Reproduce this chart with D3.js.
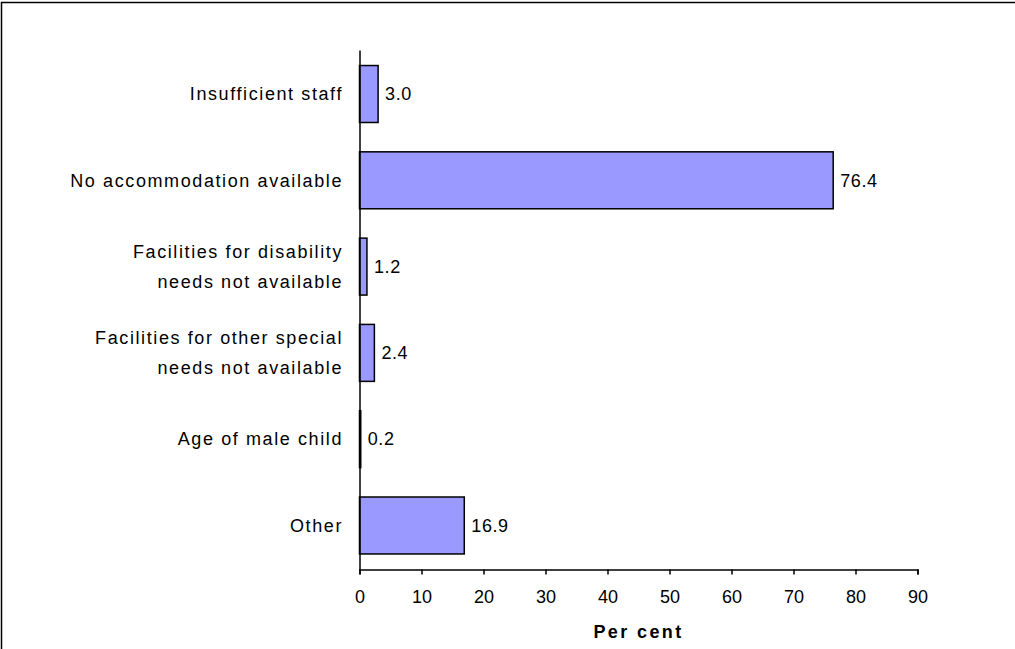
<!DOCTYPE html>
<html>
<head>
<meta charset="utf-8">
<script src="https://cdn.jsdelivr.net/npm/d3@7"></script>
<style>
  html, body { margin: 0; padding: 0; background: #fff; }
  svg { display: block; font-family: "Liberation Sans", Arial, sans-serif; }
</style>
</head>
<body>
<svg id="chart" width="1015" height="649"></svg>
<script>
// ---- data ----
const categories = [
  ["Insufficient staff"],
  ["No accommodation available"],
  ["Facilities for disability", "needs not available"],
  ["Facilities for other special", "needs not available"],
  ["Age of male child"],
  ["Other"]
];
const values = [3.0, 76.4, 1.2, 2.4, 0.2, 16.9];
const xTicks = [0, 10, 20, 30, 40, 50, 60, 70, 80, 90];
const xTitle = "Per cent";

// ---- layout ----
const svg = d3.select("#chart");
const plotL = 359.5, plotR = 917.5, plotT = 50, plotB = 569.5;

svg.append("rect")
  .attr("x", 1.5).attr("y", 2.5)
  .attr("width", 1100).attr("height", 800)
  .attr("fill", "none").attr("stroke", "#000").attr("stroke-width", 1.5);

const keys = categories.map((c, i) => i);
const x = d3.scaleLinear().domain([0, 90]).range([plotL, plotR]);
const y = d3.scaleBand().domain(keys).range([plotT, plotB])
  .paddingInner(0.34).paddingOuter(0.18);

// bars
svg.append("g").selectAll("rect")
  .data(values)
  .join("rect")
  .attr("x", x(0))
  .attr("y", (d, i) => y(i))
  .attr("width", d => x(d) - x(0))
  .attr("height", y.bandwidth())
  .attr("fill", "#9999ff")
  .attr("stroke", "#000")
  .attr("stroke-width", 1.5);

// value labels
svg.append("g").selectAll("text")
  .data(values)
  .join("text")
  .attr("x", d => x(d) + 7)
  .attr("y", (d, i) => y(i) + y.bandwidth() / 2)
  .attr("dy", "0.35em")
  .attr("font-size", 18)
  .attr("letter-spacing", 0.6)
  .attr("fill", "#000")
  .text(d => d.toFixed(1));

// x axis
const xAxis = d3.axisBottom(x).tickValues(xTicks).tickSize(5).tickPadding(16)
  .tickFormat(d3.format("d"));
const gx = svg.append("g").attr("transform", `translate(0,${plotB})`).call(xAxis);
gx.select(".domain").attr("stroke", "#000").attr("stroke-width", 1.5);
gx.selectAll(".tick line").attr("stroke", "#000").attr("stroke-width", 1.5);
gx.selectAll(".tick text")
  .attr("font-family", "Liberation Sans, Arial, sans-serif")
  .attr("font-size", 18).attr("fill", "#000");

// y axis
const yAxis = d3.axisLeft(y).tickSize(0).tickFormat("");
const gy = svg.append("g").attr("transform", `translate(${plotL},0)`).call(yAxis);
gy.select(".domain").attr("stroke", "#000").attr("stroke-width", 1.5);

// category labels
const lineH = 30;
const catG = svg.append("g");
categories.forEach((lines, i) => {
  const cy = y(i) + y.bandwidth() / 2;
  const t = catG.append("text")
    .attr("text-anchor", "end")
    .attr("font-size", 18)
    .attr("letter-spacing", 1.6)
    .attr("fill", "#000");
  lines.forEach((ln, j) => {
    t.append("tspan")
      .attr("x", 343)
      .attr("y", cy + (j - (lines.length - 1) / 2) * lineH)
      .attr("dy", "0.35em")
      .text(ln);
  });
});

// x title
svg.append("text")
  .attr("x", (plotL + plotR) / 2)
  .attr("y", 632)
  .attr("dy", "0.35em")
  .attr("text-anchor", "middle")
  .attr("font-size", 18)
  .attr("font-weight", "bold")
  .attr("letter-spacing", 2.4)
  .attr("fill", "#000")
  .text(xTitle);
</script>
</body>
</html>
